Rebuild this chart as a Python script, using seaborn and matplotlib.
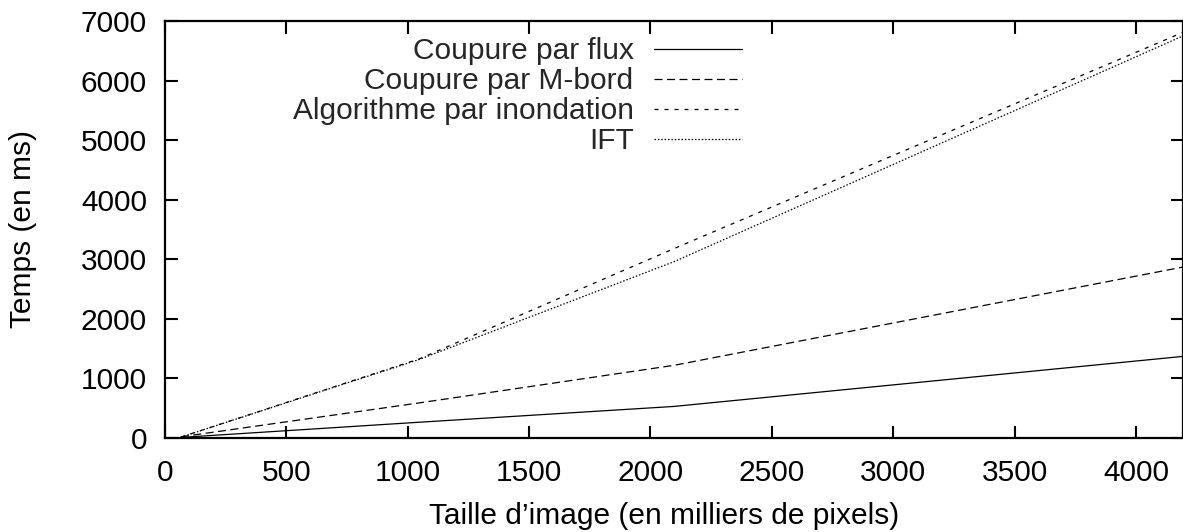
import matplotlib
matplotlib.use("Agg")
import matplotlib.pyplot as plt
import seaborn as sns
import pandas as pd

# Image size in thousands of pixels (256², 1024², 1024x2048, 2048²)
taille = [65.5, 1048.6, 2097.2, 4194.3]

# Running time (ms) of each method
flux = [10, 265, 530, 1370]
m_bord = [20, 590, 1220, 2870]
inondation = [15, 1330, 3180, 6810]
ift = [15, 1320, 2960, 6750]

methodes = ["Coupure par flux", "Coupure par M-bord",
            "Algorithme par inondation", "IFT"]
series = [flux, m_bord, inondation, ift]

rows = []
for nom, vals in zip(methodes, series):
    for x, y in zip(taille, vals):
        rows.append({"taille": x, "temps": y, "methode": nom})
df = pd.DataFrame(rows)

sns.set_theme(style="white")
plt.rcParams["font.family"] = ["Liberation Sans", "DejaVu Sans"]
FS = 21.5
plt.rcParams["font.size"] = FS

fig = plt.figure(figsize=(11.83, 5.32), dpi=100)
ax = fig.add_axes([165 / 1183, 1 - 438 / 532, 1018 / 1183, (438 - 21) / 532])

lw = 0.9
dash_styles = {
    "Coupure par flux": "",
    "Coupure par M-bord": (6.4, 3.6),
    "Algorithme par inondation": (3.2, 4.8),
    "IFT": (1.2, 1.5),
}
sns.lineplot(data=df, x="taille", y="temps", style="methode",
             style_order=methodes, dashes=dash_styles, color="black",
             linewidth=lw, ax=ax, legend=True)

ax.set_xlim(0, 4194)
ax.set_ylim(0, 7000)
ax.set_xticks(range(0, 4001, 500))
ax.set_yticks(range(0, 7001, 1000))

for sp in ax.spines.values():
    sp.set_visible(True)
    sp.set_color("black")
    sp.set_linewidth(1.6)

ax.tick_params(axis="both", which="major", direction="in", length=9,
               width=1.5, colors="black", labelsize=FS,
               top=True, right=True, bottom=True, left=True)
ax.tick_params(axis="y", pad=13)
ax.tick_params(axis="x", pad=15)

ax.set_xlabel("Taille d’image (en milliers de pixels)", fontsize=FS,
              color="black")
ax.set_ylabel("Temps (en ms)", fontsize=FS, color="black")
ax.xaxis.set_label_coords(0.49, -0.153)
ax.yaxis.set_label_coords(-0.126, 0.5)

handles, labels = ax.get_legend_handles_labels()
leg = ax.legend(handles, labels, loc="upper right",
                bbox_to_anchor=(742 / 1183, 1 - 37 / 532),
                bbox_transform=fig.transFigure,
                markerfirst=False, frameon=False, fontsize=FS,
                handlelength=2.95, handletextpad=0.68,
                labelspacing=0.07, borderpad=0, borderaxespad=0)
for line in leg.get_lines():
    line.set_linewidth(lw)

fig.savefig("out.png", dpi=100)
